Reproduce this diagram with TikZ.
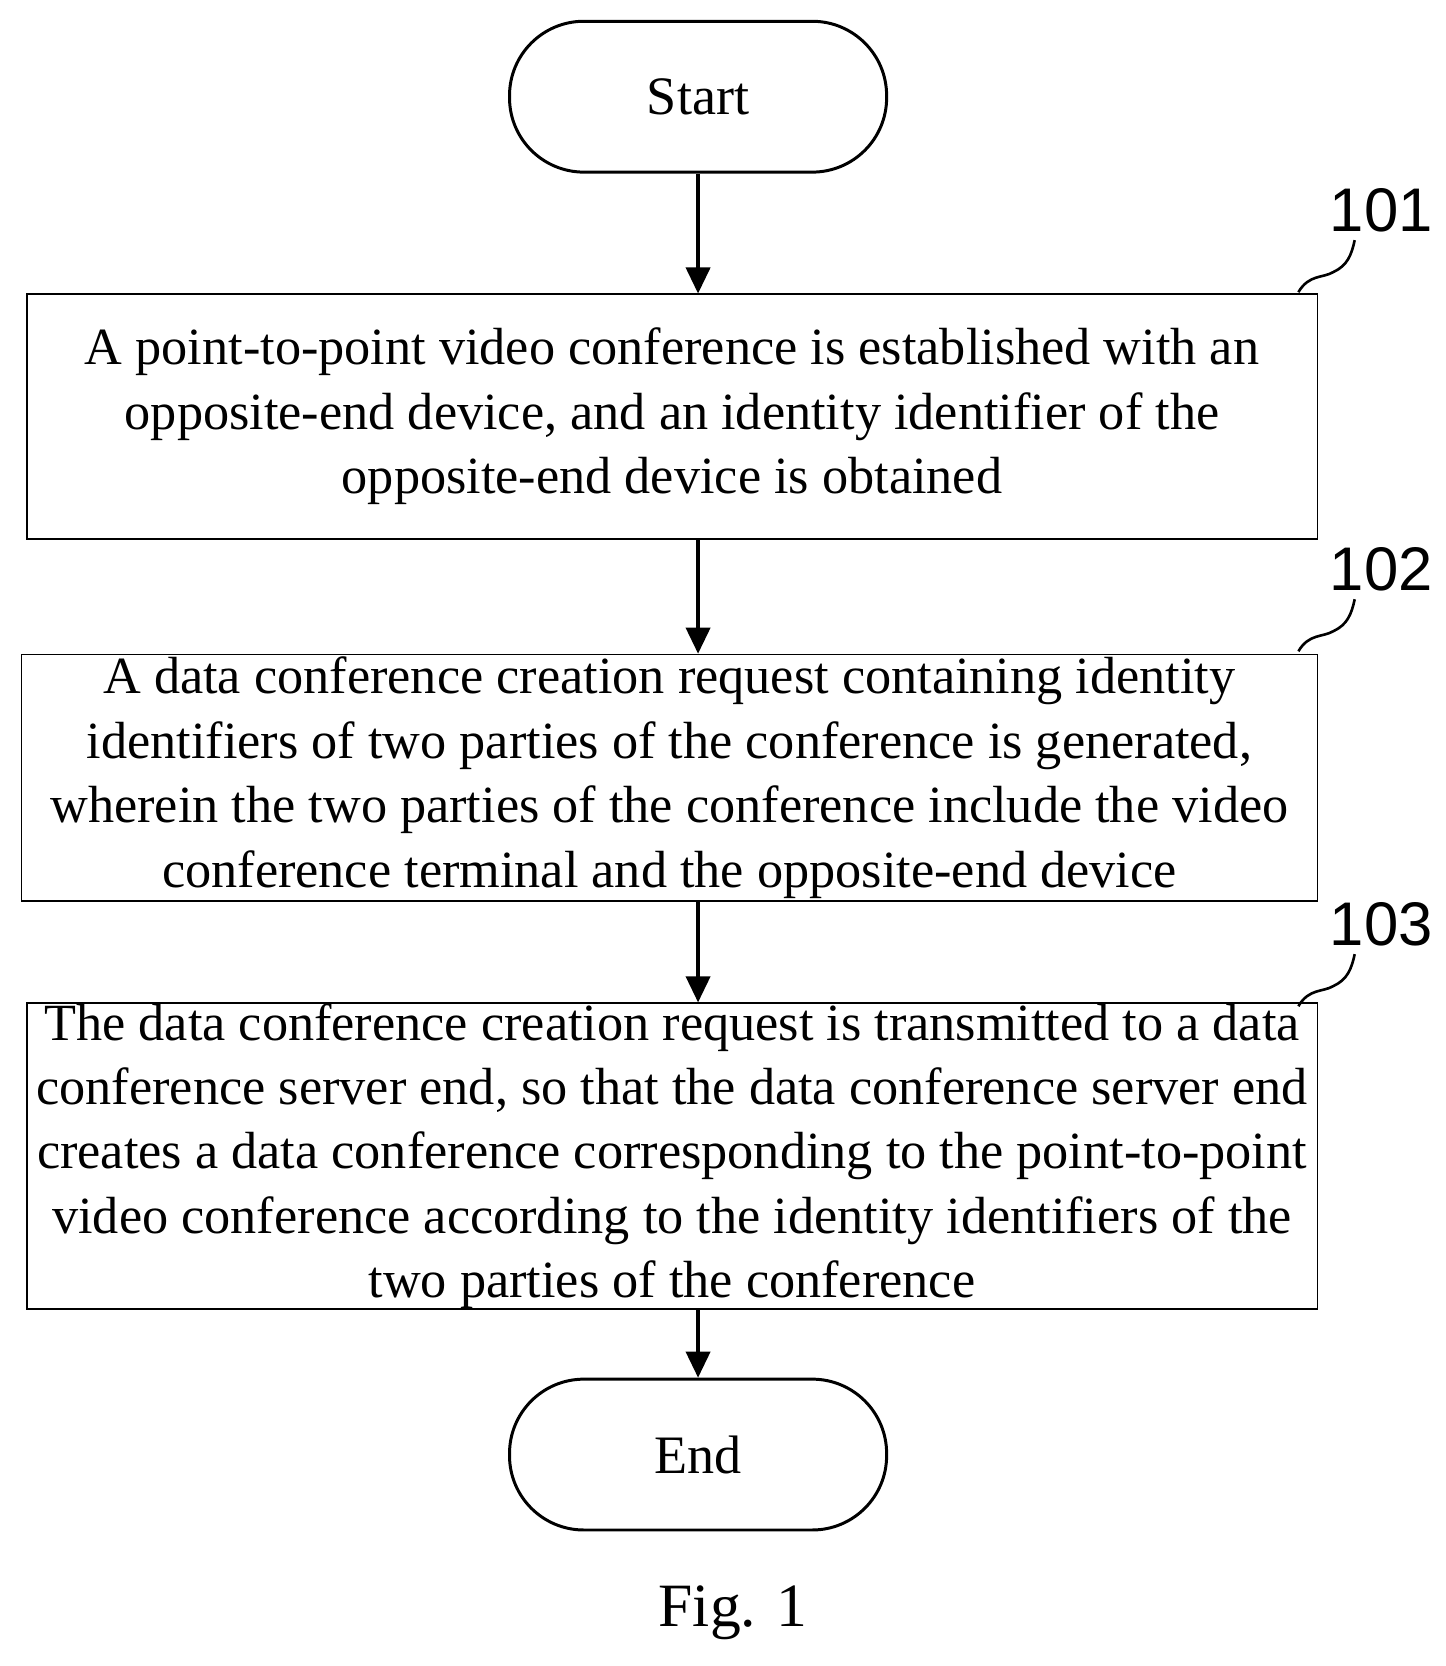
\documentclass[tikz,border=0pt]{standalone}
\usepackage{fontspec}
\setmainfont{Liberation Serif}
\newfontfamily\lblfont{Liberation Sans}
\usetikzlibrary{arrows.meta}
\begin{document}
\begin{tikzpicture}[x=0.02cm,y=-0.02cm,
  term/.style={draw,line width=1.6pt,rounded corners=1.4cm,minimum width=7.1cm,minimum height=2.84cm,font=\fontsize{29}{34}\selectfont},
  box/.style={draw,line width=0.9pt,font=\fontsize{28}{34.5}\selectfont,align=center,inner sep=0pt},
  arr/.style={line width=1.8pt,-{Triangle[length=14pt,width=13pt]}},
  lbl/.style={font=\lblfont\fontsize{33}{36}\selectfont},
  sq/.style={line width=1.4pt}]
\useasboundingbox (0,0) rectangle (1360,1568);
\node[term] (start) at (657,91) {Start};
\node[term] (end) at (657,1369) {End};
\node[box,minimum width=24.3cm,minimum height=4.6cm] (t1) at (632.5,392) {A point-to-point video conference is established with an\\opposite-end device, and an identity identifier of the\\opposite-end device is obtained};
\node[box,minimum width=24.4cm,minimum height=4.64cm] (t2) at (630,732) {A data conference creation request containing identity\\identifiers of two parties of the conference is generated,\\wherein the two parties of the conference include the video\\conference terminal and the opposite-end device};
\node[box,minimum width=24.3cm,minimum height=5.52cm] (t3) at (632.5,1088) {The data conference creation request is transmitted to a data\\conference server end, so that the data conference server end\\creates a data conference corresponding to the point-to-point\\video conference according to the identity identifiers of the\\two parties of the conference};
\draw[arr] (start) -- (start |- t1.north);
\draw[arr] (start |- t1.south) -- (start |- t2.north);
\draw[arr] (start |- t2.south) -- (start |- t3.north);
\draw[arr] (start |- t3.south) -- (end);
\node[lbl] (l1) at (1300,198) {101};
\node[lbl] (l2) at (1300,536) {102};
\node[lbl] (l3) at (1300,870) {103};
\foreach \y in {0,338,672}{
\draw[sq] (1222,275+\y) .. controls (1232,258+\y) and (1245,262+\y) .. (1255,256+\y) .. controls (1268,250+\y) and (1272,240+\y) .. (1275,226+\y);}
\node[font=\fontsize{33}{36}\selectfont] (fig) at (690,1518) {Fig. 1};
\end{tikzpicture}
\end{document}
